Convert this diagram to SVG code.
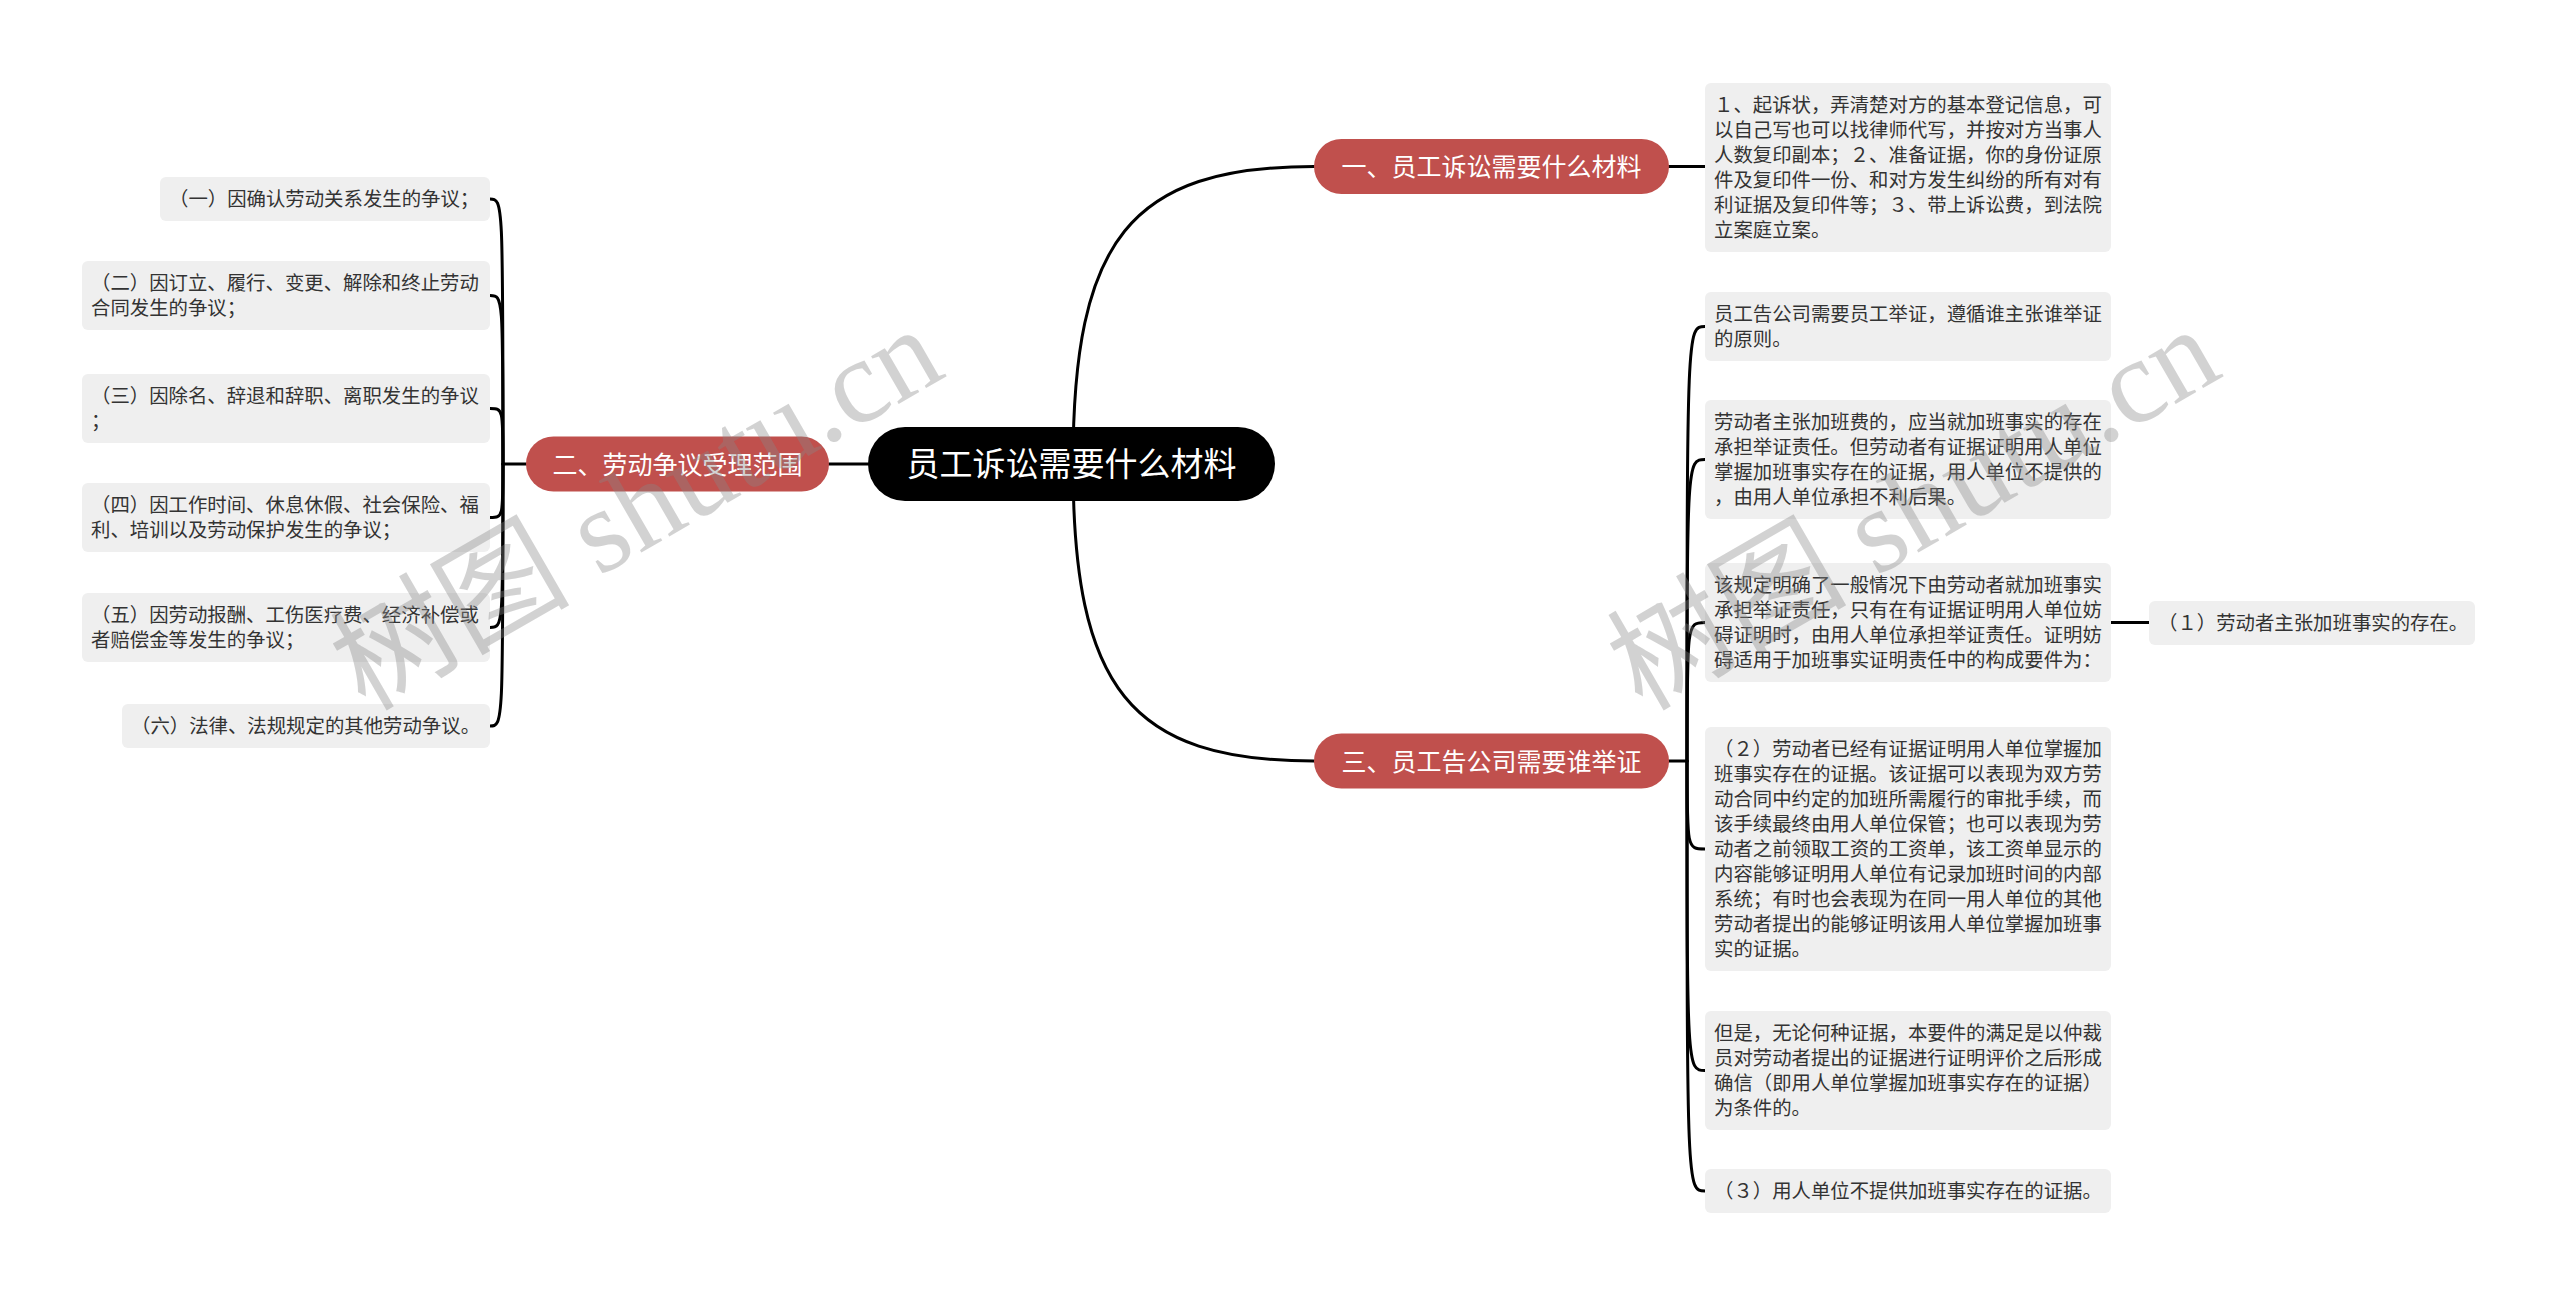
<svg xmlns="http://www.w3.org/2000/svg" width="2560" height="1297" viewBox="0 0 2560 1297">
<style>
.bg{fill:#ffffff}
.root rect{fill:#000000}
.root text{fill:#ffffff;font-family:"Noto Sans CJK SC","Noto Sans",sans-serif;font-size:33px;text-anchor:middle}
.branch rect{fill:#c0504d}
.branch text{fill:#ffffff;font-family:"Noto Sans CJK SC","Noto Sans",sans-serif;font-size:25px;text-anchor:middle}
.leaf rect{fill:#efefef}
.leaf text{fill:#333333;font-family:"Noto Sans CJK SC","Noto Sans",sans-serif;font-size:19.4px}
.conn path{fill:none;stroke:#000000;stroke-width:3;stroke-linecap:round}
.wm{fill:#888888;opacity:0.37;font-family:"Liberation Serif","Noto Sans CJK SC",serif;font-size:120px}
</style>
<rect class="bg" x="0" y="0" width="2560" height="1297"/>

<g id="connectors" class="conn">
  <path d="M1073,464 C1073,240 1130,166.5 1314,166.5"/>
  <path d="M1073,464 C1073,688 1130,761 1314,761"/>
  <path d="M829,464 L868,464"/>
  <path d="M1669,166.5 L1705,166.5"/>
  <path d="M526,464 L503,464"/>
  <path d="M503,464 C503,199 503,199 490,199"/>
  <path d="M503,464 C503,295.5 503,295.5 490,295.5"/>
  <path d="M503,464 C503,408.5 503,408.5 490,408.5"/>
  <path d="M503,464 C503,517.5 503,517.5 490,517.5"/>
  <path d="M503,464 C503,627.5 503,627.5 490,627.5"/>
  <path d="M503,464 C503,726 503,726 490,726"/>
  <path d="M1669,761 L1687,761"/>
  <path d="M1687,761 C1687,326.5 1687,326.5 1705,326.5"/>
  <path d="M1687,761 C1687,459.5 1687,459.5 1705,459.5"/>
  <path d="M1687,761 C1687,622.5 1687,622.5 1705,622.5"/>
  <path d="M1687,761 C1687,849 1687,849 1705,849"/>
  <path d="M1687,761 C1687,1070.5 1687,1070.5 1705,1070.5"/>
  <path d="M1687,761 C1687,1191 1687,1191 1705,1191"/>
  <path d="M2111,622.5 L2149,622.5"/>
</g>

<g id="root" class="root">
  <rect x="868" y="427" width="407" height="74" rx="37"/>
  <text x="1071.5" y="476">员工诉讼需要什么材料</text>
</g>

<g id="branch1" class="branch">
  <rect x="1314" y="139" width="355" height="55" rx="27.5"/>
  <text x="1491.5" y="176">一、员工诉讼需要什么材料</text>
</g>
<g id="branch2" class="branch">
  <rect x="526" y="436.5" width="303" height="55" rx="27.5"/>
  <text x="677.5" y="473.5">二、劳动争议受理范围</text>
</g>
<g id="branch3" class="branch">
  <rect x="1314" y="733.5" width="355" height="55" rx="27.5"/>
  <text x="1491.5" y="770.5">三、员工告公司需要谁举证</text>
</g>

<g id="leafA" class="leaf">
  <rect x="1705" y="83" width="406" height="169" rx="6"/>
  <text x="1714" y="112.4">１、起诉状，弄清楚对方的基本登记信息，可</text>
  <text x="1714" y="137.4">以自己写也可以找律师代写，并按对方当事人</text>
  <text x="1714" y="162.4">人数复印副本；２、准备证据，你的身份证原</text>
  <text x="1714" y="187.4">件及复印件一份、和对方发生纠纷的所有对有</text>
  <text x="1714" y="212.4">利证据及复印件等；３、带上诉讼费，到法院</text>
  <text x="1714" y="237.4">立案庭立案。</text>
</g>

<g id="leafB" class="leaf">
  <rect x="1705" y="292" width="406" height="69" rx="6"/>
  <text x="1714" y="321.4">员工告公司需要员工举证，遵循谁主张谁举证</text>
  <text x="1714" y="346.4">的原则。</text>
</g>

<g id="leafC" class="leaf">
  <rect x="1705" y="400" width="406" height="119" rx="6"/>
  <text x="1714" y="429.4">劳动者主张加班费的，应当就加班事实的存在</text>
  <text x="1714" y="454.4">承担举证责任。但劳动者有证据证明用人单位</text>
  <text x="1714" y="479.4">掌握加班事实存在的证据，用人单位不提供的</text>
  <text x="1714" y="504.4">，由用人单位承担不利后果。</text>
</g>

<g id="leafD" class="leaf">
  <rect x="1705" y="563" width="406" height="119" rx="6"/>
  <text x="1714" y="592.4">该规定明确了一般情况下由劳动者就加班事实</text>
  <text x="1714" y="617.4">承担举证责任，只有在有证据证明用人单位妨</text>
  <text x="1714" y="642.4">碍证明时，由用人单位承担举证责任。证明妨</text>
  <text x="1714" y="667.4">碍适用于加班事实证明责任中的构成要件为：</text>
</g>

<g id="leafD1" class="leaf">
  <rect x="2149" y="601" width="326" height="44" rx="6"/>
  <text x="2158" y="630.4">（１）劳动者主张加班事实的存在。</text>
</g>

<g id="leafE" class="leaf">
  <rect x="1705" y="727" width="406" height="244" rx="6"/>
  <text x="1714" y="756.4">（２）劳动者已经有证据证明用人单位掌握加</text>
  <text x="1714" y="781.4">班事实存在的证据。该证据可以表现为双方劳</text>
  <text x="1714" y="806.4">动合同中约定的加班所需履行的审批手续，而</text>
  <text x="1714" y="831.4">该手续最终由用人单位保管；也可以表现为劳</text>
  <text x="1714" y="856.4">动者之前领取工资的工资单，该工资单显示的</text>
  <text x="1714" y="881.4">内容能够证明用人单位有记录加班时间的内部</text>
  <text x="1714" y="906.4">系统；有时也会表现为在同一用人单位的其他</text>
  <text x="1714" y="931.4">劳动者提出的能够证明该用人单位掌握加班事</text>
  <text x="1714" y="956.4">实的证据。</text>
</g>

<g id="leafF" class="leaf">
  <rect x="1705" y="1011" width="406" height="119" rx="6"/>
  <text x="1714" y="1040.4">但是，无论何种证据，本要件的满足是以仲裁</text>
  <text x="1714" y="1065.4">员对劳动者提出的证据进行证明评价之后形成</text>
  <text x="1714" y="1090.4">确信（即用人单位掌握加班事实存在的证据）</text>
  <text x="1714" y="1115.4">为条件的。</text>
</g>

<g id="leafG" class="leaf">
  <rect x="1705" y="1169" width="406" height="44" rx="6"/>
  <text x="1714" y="1198.4">（３）用人单位不提供加班事实存在的证据。</text>
</g>

<g id="leafL1" class="leaf">
  <rect x="160" y="177" width="330" height="44" rx="6"/>
  <text x="169" y="206.4">（一）因确认劳动关系发生的争议；</text>
</g>
<g id="leafL2" class="leaf">
  <rect x="82" y="261" width="408" height="69" rx="6"/>
  <text x="91" y="290.4">（二）因订立、履行、变更、解除和终止劳动</text>
  <text x="91" y="315.4">合同发生的争议；</text>
</g>
<g id="leafL3" class="leaf">
  <rect x="82" y="374" width="408" height="69" rx="6"/>
  <text x="91" y="403.4">（三）因除名、辞退和辞职、离职发生的争议</text>
  <text x="91" y="428.4">；</text>
</g>
<g id="leafL4" class="leaf">
  <rect x="82" y="483" width="408" height="69" rx="6"/>
  <text x="91" y="512.4">（四）因工作时间、休息休假、社会保险、福</text>
  <text x="91" y="537.4">利、培训以及劳动保护发生的争议；</text>
</g>
<g id="leafL5" class="leaf">
  <rect x="82" y="593" width="408" height="69" rx="6"/>
  <text x="91" y="622.4">（五）因劳动报酬、工伤医疗费、经济补偿或</text>
  <text x="91" y="647.4">者赔偿金等发生的争议；</text>
</g>
<g id="leafL6" class="leaf">
  <rect x="122" y="704" width="368" height="44" rx="6"/>
  <text x="131" y="733.4">（六）法律、法规规定的其他劳动争议。</text>
</g>

<g id="watermarks">
  <text class="wm" transform="translate(365,712) rotate(-30)">树图 shutu.cn</text>
  <text class="wm" transform="translate(1642,712) rotate(-30)">树图 shutu.cn</text>
</g>
</svg>
